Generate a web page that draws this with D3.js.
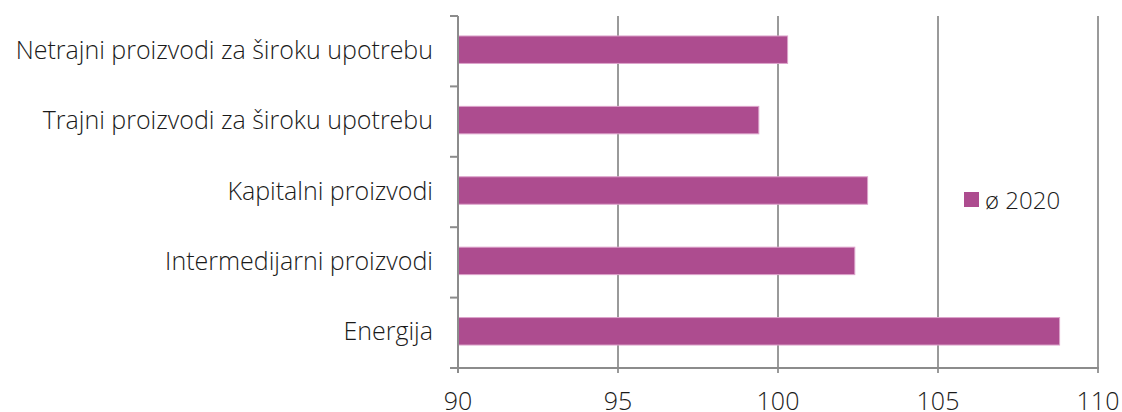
<!DOCTYPE html>
<html>
<head>
<meta charset="utf-8">
<script src="https://cdn.jsdelivr.net/npm/d3@7"></script>
<style>
  body { margin: 0; background: #fff; }
  svg text { font-family: "Open Sans", "Noto Sans", sans-serif; font-weight: 300; fill: #1a1a1a; }
</style>
</head>
<body>
<svg id="chart" width="1122" height="412"></svg>
<script>
var categories = ["Netrajni proizvodi za široku upotrebu", "Trajni proizvodi za široku upotrebu",
    "Kapitalni proizvodi", "Intermedijarni proizvodi", "Energija"];
var values = [100.3, 99.4, 102.8, 102.4, 108.8];
var xTicks = [90, 95, 100, 105, 110];
var seriesName = "ø 2020";

var margin = {top: 16, right: 24, bottom: 44, left: 458};
var width = 1122 - margin.left - margin.right;
var height = 412 - margin.top - margin.bottom;
var barColor = "#ad4c8f";

var svg = d3.select("#chart")
    .append("g")
    .attr("transform", "translate(" + margin.left + "," + margin.top + ")");

var x = d3.scaleLinear().domain([90, 110]).range([0, 640]);
var y = d3.scaleBand().domain(categories).range([0, height]).paddingInner(0.61).paddingOuter(0.305);

// vertical gridlines
svg.selectAll(".grid")
    .data(xTicks.slice(1))
    .enter().append("line")
    .attr("x1", d => x(d)).attr("x2", d => x(d))
    .attr("y1", 0).attr("y2", height + 5)
    .attr("stroke", "#9a9a9a").attr("stroke-width", 2);

// bars
svg.selectAll(".bar")
    .data(values)
    .enter().append("rect")
    .attr("x", x(90))
    .attr("y", (d, i) => y(categories[i]) - 1.5)
    .attr("width", d => x(d) - x(90))
    .attr("height", y.bandwidth())
    .attr("fill", barColor)
    .attr("stroke", "#dca3cb").attr("stroke-width", 1);

// y axis line with ticks at band edges
var bandEdges = categories.map(c => y(c) - y.step() * y.paddingInner() / 2);
bandEdges.push(height);
svg.append("line")
    .attr("x1", 0).attr("x2", 0).attr("y1", 0).attr("y2", height)
    .attr("stroke", "#8c8c8c").attr("stroke-width", 2);
svg.selectAll(".ytick")
    .data(bandEdges)
    .enter().append("line")
    .attr("x1", -8).attr("x2", 0)
    .attr("y1", d => d).attr("y2", d => d)
    .attr("stroke", "#8c8c8c").attr("stroke-width", 2);

// x axis line
svg.append("line")
    .attr("x1", -8).attr("x2", x(110) + 1).attr("y1", height).attr("y2", height)
    .attr("stroke", "#8c8c8c").attr("stroke-width", 2);
svg.append("line")
    .attr("x1", 0).attr("x2", 0).attr("y1", height).attr("y2", height + 5)
    .attr("stroke", "#8c8c8c").attr("stroke-width", 2);

// category labels
svg.selectAll(".ylabel")
    .data(categories)
    .enter().append("text")
    .attr("x", -25)
    .attr("y", d => y(d) + y.bandwidth() / 2 + 7.5)
    .attr("text-anchor", "end")
    .attr("font-size", "25px")
    .text(d => d);

// x tick labels
svg.selectAll(".xlabel")
    .data(xTicks)
    .enter().append("text")
    .attr("x", d => x(d))
    .attr("y", height + 42)
    .attr("text-anchor", "middle")
    .attr("font-size", "25px")
    .text(d => d);

// legend
svg.append("rect")
    .attr("x", 506).attr("y", 176).attr("width", 15).attr("height", 15)
    .attr("fill", barColor);
svg.append("text")
    .attr("x", 527).attr("y", 193)
    .attr("font-size", "24px")
    .text(seriesName);
</script>
</body>
</html>
